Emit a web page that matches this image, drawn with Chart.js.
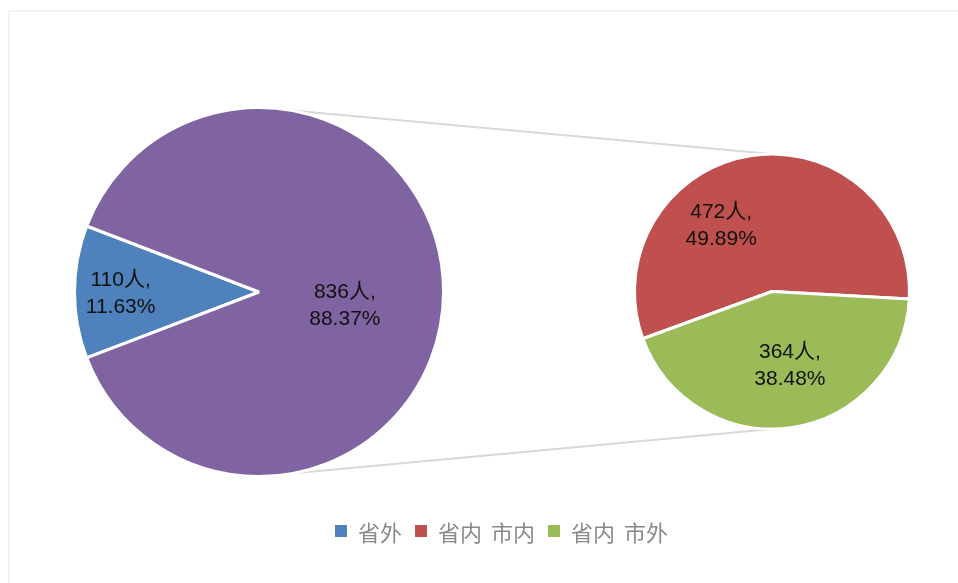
<!DOCTYPE html>
<html>
<head>
<meta charset="utf-8">
<script src="https://cdn.jsdelivr.net/npm/chart.js@4.4.1/dist/chart.umd.min.js"></script>
<style>
  html, body { margin: 0; padding: 0; background: #fff; }
  #wrap { position: relative; width: 958px; height: 583px; overflow: hidden; background: #fff; }
  #frame { position: absolute; left: 8px; top: 10px; width: 960px; height: 590px; border: 2px solid #f3f3f3; box-sizing: border-box; }
  canvas { position: absolute; left: 0; top: 0; }
  #cRight { z-index: 1; }
  #cLeft { z-index: 2; }
  #legend { position: absolute; z-index: 3; top: 515px; left: 335px; display: flex; align-items: center;
            font-family: "Noto Sans CJK SC", sans-serif; font-size: 22px; color: #8a8a8a; white-space: pre; word-spacing: 4px; }
  .sw { width: 12px; height: 12px; display: inline-block; margin-right: 11px; }
  .it { display: flex; align-items: center; margin-right: 13px; }
</style>
</head>
<body>
<div id="wrap">
  <div id="frame"></div>
  <canvas id="cRight" width="958" height="583"></canvas>
  <canvas id="cLeft" width="958" height="583"></canvas>
  <div id="legend"></div>
</div>
<script>
// ---- data ----
const mainLabels = ['省外', '省内'];
const mainValues = [110, 836];
const subLabels = ['省内 市内', '省内 市外'];
const subValues = [472, 364];
const legendLabels = ['省外', '省内 市内', '省内 市外'];

// ---- styles ----
const mainColors = ['#4F81BD', '#8064A2'];
const subColors = ['#C0504D', '#9BBB59'];
const legendColors = ['#4F81BD', '#C0504D', '#9BBB59'];
const grandTotal = mainValues.reduce((a, b) => a + b, 0);

// label placement: [fraction along slice angle, fraction of radius]
const mainLabelPos = [[0.5, 0.75], [0.525, 0.47]];
const subLabelPos = [[0.36, 0.615], [0.465, 0.54]];

const labelPlugin = {
  id: 'sliceLabels',
  afterDatasetsDraw(chart, args, opts) {
    const ctx = chart.ctx;
    const meta = chart.getDatasetMeta(0);
    const vals = chart.data.datasets[0].data;
    ctx.save();
    ctx.font = '21px "Liberation Sans", "Noto Sans CJK SC", sans-serif';
    ctx.fillStyle = '#111';
    ctx.textAlign = 'center';
    ctx.textBaseline = 'alphabetic';
    meta.data.forEach((arc, i) => {
      const p = opts.pos[i];
      const a = arc.startAngle + (arc.endAngle - arc.startAngle) * p[0];
      const r = arc.outerRadius * p[1];
      const x = arc.x + Math.cos(a) * r;
      const y = arc.y + Math.sin(a) * r;
      const pct = (vals[i] / grandTotal * 100).toFixed(2) + '%';
      ctx.fillText(vals[i] + '人,', x, y - 6);
      ctx.fillText(pct, x, y + 21);
    });
    ctx.restore();
  }
};

const common = {
  responsive: false,
  animation: false,
  events: [],
  plugins: { legend: { display: false }, tooltip: { enabled: false } }
};

const leftChart = new Chart(document.getElementById('cLeft'), {
  type: 'pie',
  data: {
    labels: mainLabels,
    datasets: [{ data: mainValues, backgroundColor: mainColors, borderColor: '#fff', borderWidth: 3 }]
  },
  options: Object.assign({}, common, {
    rotation: 249.1,
    layout: { padding: { left: 73, right: 513, top: 106, bottom: 105 } },
    plugins: Object.assign({}, common.plugins, { sliceLabels: { pos: mainLabelPos } })
  }),
  plugins: [labelPlugin]
});

const connectorPlugin = {
  id: 'connectors',
  beforeDatasetsDraw(chart) {
    const a = leftChart.getDatasetMeta(0).data[0];
    const b = chart.getDatasetMeta(0).data[0];
    const ctx = chart.ctx;
    ctx.save();
    ctx.strokeStyle = '#d9d9d9';
    ctx.lineWidth = 2;
    ctx.beginPath();
    ctx.moveTo(a.x, a.y - a.outerRadius);
    ctx.lineTo(b.x, b.y - b.outerRadius);
    ctx.moveTo(a.x, a.y + a.outerRadius);
    ctx.lineTo(b.x, b.y + b.outerRadius);
    ctx.stroke();
    ctx.restore();
  }
};

const rightChart = new Chart(document.getElementById('cRight'), {
  type: 'pie',
  data: {
    labels: subLabels,
    datasets: [{ data: subValues, backgroundColor: subColors, borderColor: '#fff', borderWidth: 3 }]
  },
  options: Object.assign({}, common, {
    rotation: 249.9,
    layout: { padding: { left: 633, right: 47, top: 152, bottom: 152 } },
    plugins: Object.assign({}, common.plugins, { sliceLabels: { pos: subLabelPos } })
  }),
  plugins: [connectorPlugin, labelPlugin]
});

// ---- legend ----
const lg = document.getElementById('legend');
legendLabels.forEach((t, i) => {
  const it = document.createElement('span');
  it.className = 'it';
  const sw = document.createElement('span');
  sw.className = 'sw';
  sw.style.background = legendColors[i];
  it.appendChild(sw);
  it.appendChild(document.createTextNode(t));
  lg.appendChild(it);
});
</script>
</body>
</html>
